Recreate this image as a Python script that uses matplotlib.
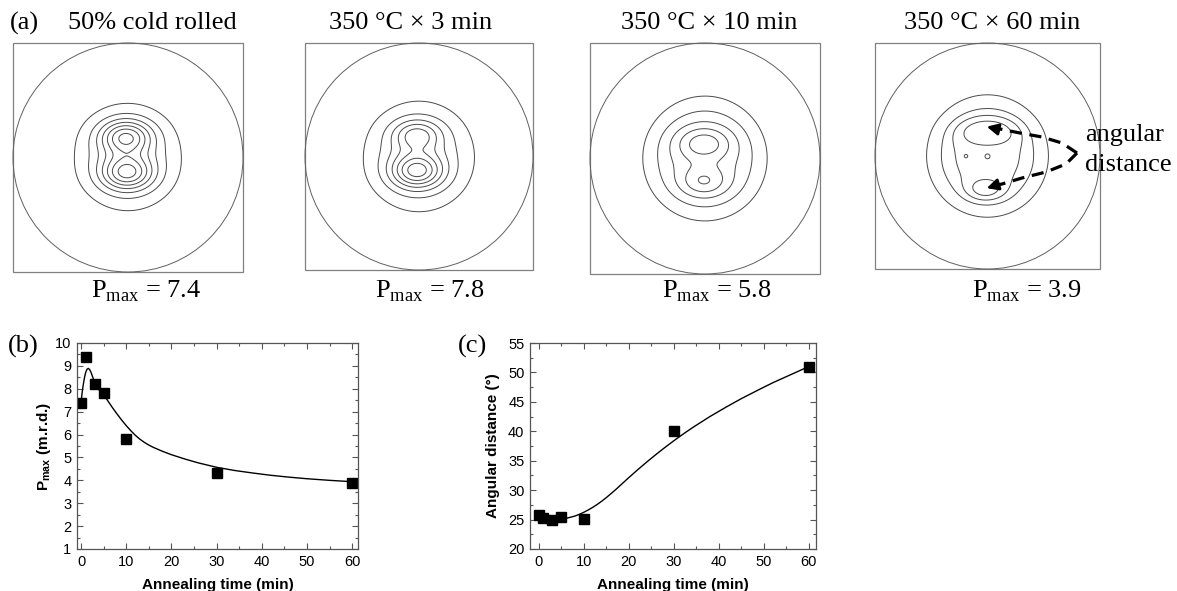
import numpy as np
import matplotlib.pyplot as plt

plt.rcParams['mathtext.fontset'] = 'custom'
plt.rcParams['mathtext.rm'] = 'Liberation Serif'
plt.rcParams['mathtext.bf'] = 'Liberation Sans:bold'

# ---- data ----
pf_titles = ['50% cold rolled', '350 °C × 3 min', '350 °C × 10 min', '350 °C × 60 min']
pf_pmax = ['7.4', '7.8', '5.8', '3.9']

# pole figure intensity model: broad part (amp, sigma, power) + lobes (x, y, amp, sx, sy)
pf_broad = [(3.33, 0.297, 1.0), (3.4, 0.31, 1.0), (3.3, 0.36, 1.5), (2.8, 0.38, 2.0)]
pf_lobes = [
    [(-0.02, 0.18, 4.6, 0.15, 0.10), (-0.01, -0.135, 4.6, 0.15, 0.10)],
    [(-0.02, 0.19, 3.0, 0.14, 0.09), (-0.02, -0.13, 4.6, 0.15, 0.10)],
    [(-0.01, 0.13, 2.5, 0.16, 0.10), (-0.01, -0.20, 2.0, 0.14, 0.09)],
    [(0.0, 0.22, 1.18, 0.19, 0.085), (-0.02, -0.30, 1.1, 0.12, 0.07),
     (0.0, 0.0, -0.35, 0.025, 0.025), (-0.19, 0.0, -0.3, 0.015, 0.015)],
]
pf_levels = [[1, 2, 3, 4, 5, 6, 7], [1, 2, 3, 4, 5, 6, 7], [1, 2, 3, 4, 5], [1, 2, 2.6, 3.2]]

time_b = [0, 1, 3, 5, 10, 30, 60]
pmax_b = [7.4, 9.4, 8.2, 7.8, 5.8, 4.3, 3.9]
fit_b_t = [0, 0.25, 0.5, 0.75, 1.0, 1.3, 1.6, 1.9, 2.2, 2.6, 3, 3.5, 4, 5, 6, 7, 8, 9, 10,
           11, 12, 13, 14, 15, 16, 18, 20, 23, 26, 30, 34, 38, 42, 46, 50, 55, 60]
fit_b_v = [7.43, 7.85, 8.2, 8.48, 8.7, 8.85, 8.89, 8.84, 8.72, 8.5, 8.28, 8.1, 7.95, 7.75,
           7.45, 7.16, 6.89, 6.63, 6.39, 6.17, 5.97, 5.8, 5.66, 5.54, 5.44, 5.27, 5.12,
           4.93, 4.76, 4.57, 4.43, 4.32, 4.22, 4.14, 4.07, 4.0, 3.94]

time_c = [0, 1, 3, 5, 10, 30, 60]
angle_c = [25.8, 25.3, 24.9, 25.4, 25.1, 40, 51]
fit_c_t = [0, 2, 4, 6, 8, 9, 10, 11, 12, 13, 14, 15, 16, 17, 18, 19, 20, 22, 24, 26, 28,
           30, 32, 34.3, 38, 41.7, 45, 49.1, 52, 56.5, 60]
fit_c_v = [25.6, 25.2, 25.05, 25.2, 25.6, 25.9, 26.25, 26.65, 27.1, 27.6, 28.15, 28.75,
           29.4, 30.05, 30.75, 31.45, 32.15, 33.5, 34.8, 36.05, 37.25, 38.4, 39.5, 40.7,
           42.5, 44.15, 45.55, 47.15, 48.25, 49.8, 51.0]

W, H = 1177, 591
fig = plt.figure(figsize=(W / 100, H / 100), dpi=100)


def box(l, t, w, h):
    return [l / W, 1 - (t + h) / H, w / W, h / H]


serif = 'Liberation Serif'
sans = 'Liberation Sans'

# ---- (a) pole figures ----
pf_boxes = [(13, 43, 230, 229), (305, 43, 228, 227), (590, 43, 230, 231), (875, 43, 225, 226)]
title_x = [152, 411, 709, 992]
label_x = [146, 430, 717, 1027]

g = np.linspace(-1, 1, 601)
X, Y = np.meshgrid(g, g)
R2 = X ** 2 + Y ** 2
for i in range(4):
    ax = fig.add_axes(box(*pf_boxes[i]))
    ax.set_xlim(-1, 1)
    ax.set_ylim(-1, 1)
    ax.axis('off')
    ax.add_patch(plt.Rectangle((-1, -1), 2, 2, fill=False, ec='#808080', lw=0.9, clip_on=False))
    ax.add_patch(plt.Circle((0, 0), 1, fill=False, ec='#606060', lw=0.7, clip_on=False))
    a, s, p = pf_broad[i]
    F = a * np.exp(-(R2 / (2 * s ** 2)) ** p)
    for (x0, y0, amp, sx, sy) in pf_lobes[i]:
        F = F + amp * np.exp(-((X - x0) ** 2 / (2 * sx ** 2) + (Y - y0) ** 2 / (2 * sy ** 2)))
    F = np.ma.masked_where(R2 > 0.97, F)
    ax.contour(X, Y, F, levels=pf_levels[i], colors='#4a4a4a', linewidths=0.7)
    fig.text(title_x[i] / W, 1 - 23 / H, pf_titles[i], ha='center', va='center',
             family=serif, fontsize=19)
    fig.text(label_x[i] / W, 1 - 291 / H, r'P$_{\mathrm{max}}$ = ' + pf_pmax[i],
             ha='center', va='center', family=serif, fontsize=19)

fig.text(10 / W, 1 - 23 / H, '(a)', ha='left', va='center', family=serif, fontsize=19)
fig.text(8 / W, 1 - 346 / H, '(b)', ha='left', va='center', family=serif, fontsize=19)
fig.text(458 / W, 1 - 346 / H, '(c)', ha='left', va='center', family=serif, fontsize=19)

# angular distance annotation
ov = fig.add_axes([0, 0, 1, 1], facecolor='none')
ov.set_xlim(0, W)
ov.set_ylim(H, 0)
ov.axis('off')
up_x = [1077, 1062, 1042, 1020, 1000, 993]
up_y = [153, 143, 137, 133, 129, 128]
lo_x = [1077, 1066, 1046, 1022, 1002, 993]
lo_y = [153, 164, 172, 178, 184, 186]
ov.plot(up_x, up_y, color='k', lw=2.3, ls=(0, (3.8, 2.4)))
ov.plot(lo_x, lo_y, color='k', lw=2.3, ls=(0, (3.8, 2.4)))
ov.annotate('', xy=(984, 126), xytext=(997, 129),
            arrowprops=dict(arrowstyle='-|>', color='k', lw=2.0, mutation_scale=17))
ov.annotate('', xy=(984, 189), xytext=(997, 185),
            arrowprops=dict(arrowstyle='-|>', color='k', lw=2.0, mutation_scale=17))
ov.text(1085, 135, 'angular', ha='left', va='center', family=serif, fontsize=19)
ov.text(1085, 165, 'distance', ha='left', va='center', family=serif, fontsize=19)


def style(ax):
    ax.tick_params(which='both', direction='in', top=True, right=True, width=0.8,
                   color='#555555', labelsize=10.5, pad=4)
    ax.tick_params(which='major', length=4)
    ax.tick_params(which='minor', length=2)
    for sp in ax.spines.values():
        sp.set_color('#555555')
        sp.set_linewidth(0.9)
    for lab in ax.get_xticklabels() + ax.get_yticklabels():
        lab.set_family(sans)


# ---- (b) ----
axb = fig.add_axes(box(77, 343, 281, 206))
axb.plot(fit_b_t, fit_b_v, color='k', lw=1.0)
axb.plot(time_b, pmax_b, 's', color='k', ms=6.5)
axb.set_xlim(-0.9, 61.3)
axb.set_ylim(1, 10)
axb.set_xticks(range(0, 61, 10))
axb.set_xticks(range(5, 61, 10), minor=True)
axb.set_yticks(range(1, 11))
axb.set_yticks(np.arange(1.5, 10, 1), minor=True)
style(axb)
axb.set_xlabel('Annealing time (min)', family=sans, fontsize=11, fontweight='bold', labelpad=6.5)
axb.set_ylabel(r'P$_{\mathbf{max}}$ (m.r.d.)', family=sans, fontsize=11, fontweight='bold',
               labelpad=1.5)

# ---- (c) ----
axc = fig.add_axes(box(530, 343, 286, 206))
axc.plot(fit_c_t, fit_c_v, color='k', lw=1.0)
axc.plot(time_c, angle_c, 's', color='k', ms=6.5)
axc.set_xlim(-2, 61.6)
axc.set_ylim(20, 55)
axc.set_xticks(range(0, 61, 10))
axc.set_xticks(range(5, 61, 10), minor=True)
axc.set_yticks(range(20, 56, 5))
axc.set_yticks(np.arange(22.5, 55, 5), minor=True)
style(axc)
axc.set_xlabel('Annealing time (min)', family=sans, fontsize=11, fontweight='bold', labelpad=6.5)
axc.set_ylabel('Angular distance (°)', family=sans, fontsize=11, fontweight='bold', labelpad=6)

fig.savefig('out.png', dpi=100)
